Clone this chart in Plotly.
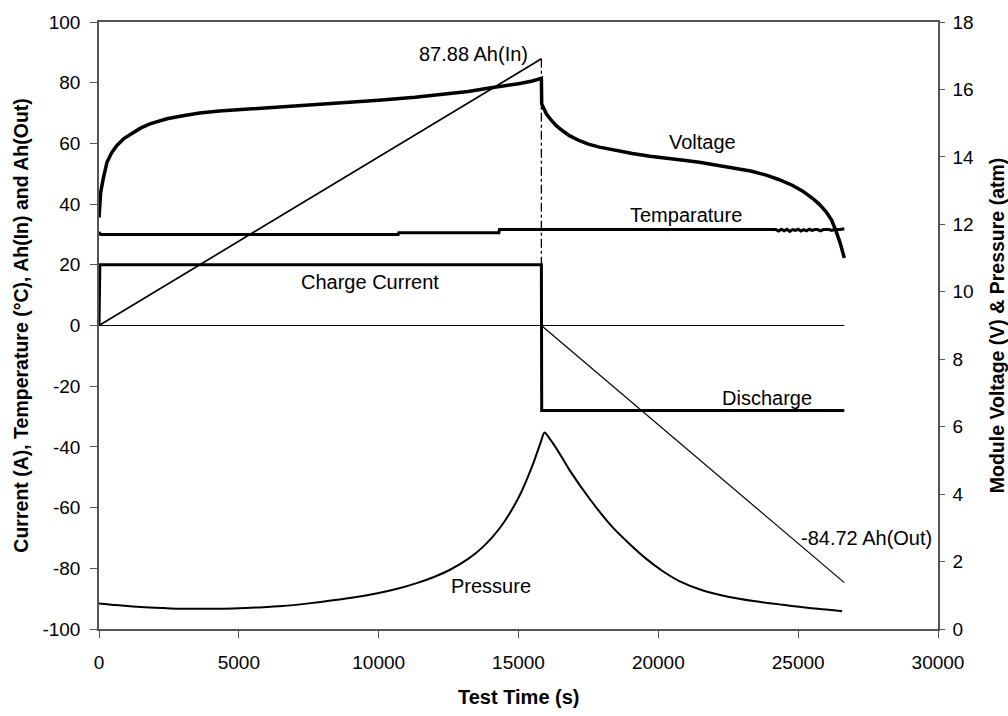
import plotly.graph_objects as go

# ---------------- data ----------------
# Charge / discharge current (A), left axis
time_current = [0, 30, 15818, 15830, 26650]
current = [0, 20, 20, -28, -28]

# Temperature (°C), left axis
time_temp = [0, 60, 200, 10700, 10720, 14300, 14320, 24200, 24300, 24400, 24500,
             24600, 24700, 24800, 24900, 25000, 25100, 25200, 25300, 25400, 25500,
             25600, 25700, 25800, 25900, 26000, 26100, 26200, 26300, 26400, 26500,
             26650]
temperature = [30.8, 30.0, 30.0, 30.0, 30.6, 30.6, 31.6, 31.6, 31.1, 31.7, 31.2,
               31.7, 31.0, 31.6, 31.3, 31.7, 31.1, 31.6, 31.2, 31.7, 31.3, 31.6,
               31.6, 31.2, 31.6, 31.6, 31.6, 31.3, 31.6, 31.6, 31.6, 31.9]

# Cumulative Ah in / out, left axis
time_ah_in = [0, 15818]
ah_in = [0, 87.88]
time_ah_out = [15818, 26650]
ah_out = [0, -84.72]

# Zero reference line
time_zero = [0, 26650]
zero_line = [0, 0]

# End-of-charge marker (dash-dot)
time_marker = [15818, 15818]
marker_level = [87.88, 20]

# Module voltage (V), right axis
time_voltage = [0, 20, 60, 150, 285, 450, 640, 900, 1210, 1500, 1820, 2430, 3000,
                3600, 4300, 5000, 6000, 7000, 8500, 10000, 11300, 12430, 13200,
                13960, 14500, 15000, 15500, 15818, 15830, 16000, 16180, 16360,
                16600, 16820, 17180, 17500, 17893, 18500, 19070, 19700, 20285,
                20900, 21464, 22000, 22643, 23300, 23857, 24300, 24786, 25150,
                25500, 25750, 26000, 26200, 26357, 26500, 26650]
voltage = [12.20, 12.55, 12.95, 13.35, 13.84, 14.12, 14.34, 14.55, 14.72, 14.86,
           14.98, 15.13, 15.22, 15.30, 15.36, 15.40, 15.45, 15.50, 15.58, 15.68,
           15.77, 15.86, 15.94, 16.04, 16.10, 16.17, 16.25, 16.33, 15.57, 15.27,
           15.08, 14.92, 14.76, 14.63, 14.48, 14.38, 14.29, 14.19, 14.10, 14.02,
           13.95, 13.90, 13.84, 13.77, 13.69, 13.58, 13.46, 13.33, 13.16, 12.99,
           12.78, 12.60, 12.37, 12.12, 11.79, 11.45, 11.00]

# Pressure (atm), right axis
time_pressure = [0, 600, 1210, 2000, 3000, 4000, 4790, 5700, 6570, 7500, 8360,
                 9200, 9960, 10700, 11360, 12000, 12535, 13200, 13714, 14320,
                 15036, 15500, 15800, 15930, 16100, 16360, 16820, 17535, 18360,
                 19000, 19570, 20150, 20750, 21600, 22535, 23400, 24320, 25400,
                 26570]
pressure = [0.76, 0.71, 0.67, 0.63, 0.60, 0.60, 0.61, 0.64, 0.68, 0.76, 0.85,
            0.95, 1.06, 1.20, 1.36, 1.55, 1.75, 2.08, 2.42, 2.98, 3.95, 4.85,
            5.55, 5.83, 5.66, 5.35, 4.72, 3.87, 3.02, 2.50, 2.08, 1.72, 1.42,
            1.14, 0.95, 0.83, 0.73, 0.62, 0.53]

# Tick labels
x_ticks = [0, 5000, 10000, 15000, 20000, 25000, 30000]
x_tick_text = ["0", "5000", "10000", "15000", "20000", "25000", "30000"]
y_ticks = [-100, -80, -60, -40, -20, 0, 20, 40, 60, 80, 100]
y_tick_text = ["-100", "-80", "-60", "-40", "-20", "0", "20", "40", "60", "80", "100"]
y2_ticks = [0, 2, 4, 6, 8, 10, 12, 14, 16, 18]
y2_tick_text = ["0", "2", "4", "6", "8", "10", "12", "14", "16", "18"]

# ---------------- figure ----------------
FONT = "Liberation Sans, Arial, sans-serif"
AXC = "#555555"
fig = go.Figure()

fig.add_trace(go.Scatter(x=time_zero, y=zero_line, mode="lines",
                         line=dict(color="black", width=1.2), yaxis="y"))
fig.add_trace(go.Scatter(x=time_ah_in, y=ah_in, mode="lines",
                         line=dict(color="black", width=1.7), yaxis="y"))
fig.add_trace(go.Scatter(x=time_ah_out, y=ah_out, mode="lines",
                         line=dict(color="black", width=1.2), yaxis="y"))
fig.add_trace(go.Scatter(x=time_marker, y=marker_level, mode="lines",
                         line=dict(color="black", width=1.3, dash="dashdot"), yaxis="y"))
fig.add_trace(go.Scatter(x=time_temp, y=temperature, mode="lines",
                         line=dict(color="black", width=3), yaxis="y"))
fig.add_trace(go.Scatter(x=time_current, y=current, mode="lines",
                         line=dict(color="black", width=3), yaxis="y"))
fig.add_trace(go.Scatter(x=time_voltage, y=voltage, mode="lines",
                         line=dict(color="black", width=3.5), yaxis="y2"))
fig.add_trace(go.Scatter(x=time_pressure, y=pressure, mode="lines",
                         line=dict(color="black", width=2, shape="spline", smoothing=0.8),
                         yaxis="y2"))

annots = [
    ("87.88 Ah(In)", 15400, 89.6, "right"),
    ("Voltage", 21570, 60.3, "center"),
    ("Temparature", 21000, 36.5, "center"),
    ("Charge Current", 9680, 14.3, "center"),
    ("Discharge", 23900, -23.8, "center"),
    ("Pressure", 14000, -85.7, "center"),
    ("-84.72 Ah(Out)", 29850, -70, "right"),
]
for txt, ax_, ay_, anc in annots:
    fig.add_annotation(x=ax_, y=ay_, xref="x", yref="y", text=txt, showarrow=False,
                       xanchor=anc, yanchor="middle",
                       font=dict(family=FONT, size=20, color="black"))

# axis titles
fig.add_annotation(x=-0.094, y=0.5, xref="paper", yref="paper", textangle=-90,
                   text="<b>Current (A), Temperature (°C), Ah(In) and Ah(Out)</b>",
                   showarrow=False, xanchor="center", yanchor="middle",
                   font=dict(family=FONT, size=19.5, color="black"))
fig.add_annotation(x=1.07, y=0.5, xref="paper", yref="paper", textangle=-90,
                   text="<b>Module Voltage (V) & Pressure (atm)</b>",
                   showarrow=False, xanchor="center", yanchor="middle",
                   font=dict(family=FONT, size=19.5, color="black"))
fig.add_annotation(x=0.5, y=-0.112, xref="paper", yref="paper",
                   text="<b>Test Time (s)</b>",
                   showarrow=False, xanchor="center", yanchor="middle",
                   font=dict(family=FONT, size=20, color="black"))

fig.update_layout(
    width=1008, height=716,
    margin=dict(l=99, r=70, t=15, b=87),
    paper_bgcolor="white", plot_bgcolor="white",
    showlegend=False,
    font=dict(family=FONT, size=19, color="black"),
    xaxis=dict(range=[0, 30000], tickvals=x_ticks, ticktext=x_tick_text,
               showgrid=False, zeroline=False, showline=True, linecolor=AXC,
               linewidth=1.5, mirror=True, ticks="outside", ticklen=7,
               tickcolor=AXC, tickwidth=1.3, ticklabelstandoff=8),
    yaxis=dict(range=[-100, 100], tickvals=y_ticks, ticktext=y_tick_text,
               showgrid=False, zeroline=False, showline=True, linecolor=AXC,
               linewidth=1.5, ticks="outside", ticklen=7, tickcolor=AXC,
               tickwidth=1.3, ticklabelstandoff=6),
    yaxis2=dict(range=[0, 18], tickvals=y2_ticks, ticktext=y2_tick_text,
                overlaying="y", side="right", anchor="x",
                showgrid=False, zeroline=False, showline=True, linecolor=AXC,
                linewidth=1.5, ticks="outside", ticklen=5, tickcolor=AXC,
                tickwidth=1.3, ticklabelstandoff=4),
    yaxis3=dict(range=[0, 18], tickvals=y2_ticks, showticklabels=False,
                overlaying="y", side="right", anchor="x",
                showgrid=False, zeroline=False, showline=False,
                ticks="inside", ticklen=5, tickcolor=AXC, tickwidth=1.3),
)

fig.write_html("out.html")
